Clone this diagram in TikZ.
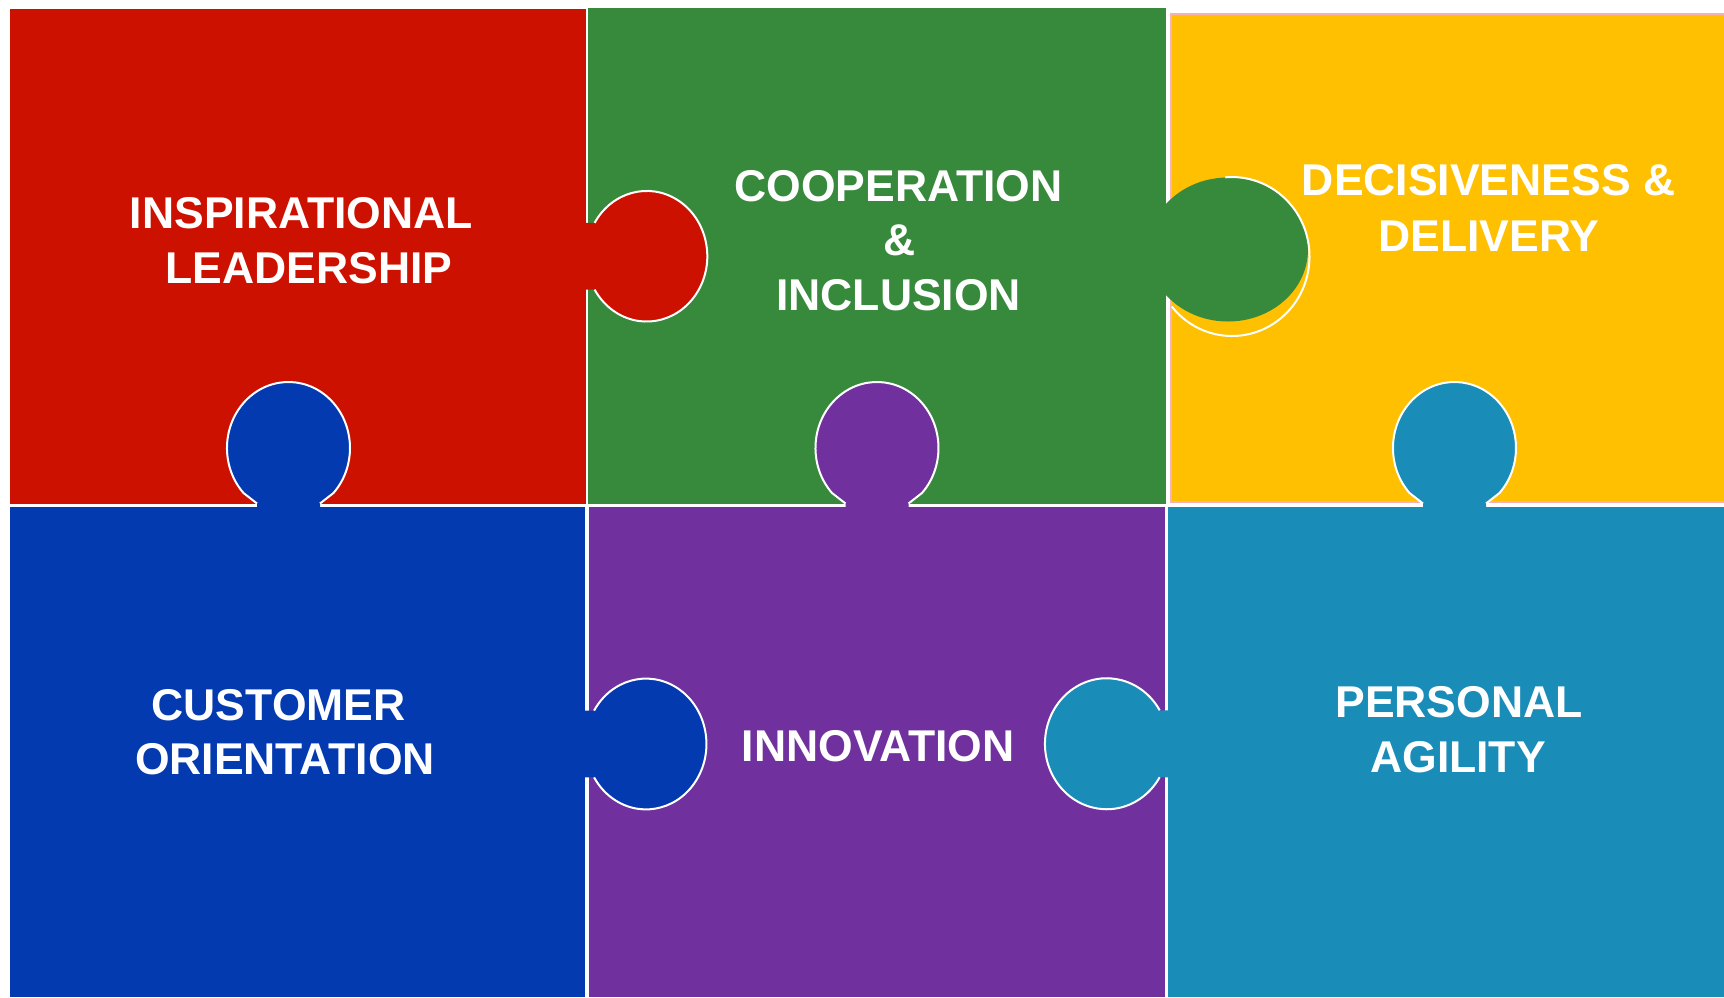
\documentclass[tikz,border=0pt]{standalone}
\usepackage{fontspec}
\setmainfont{Liberation Sans}
\definecolor{pred}{RGB}{205,17,0}
\definecolor{pgreen}{RGB}{55,138,60}
\definecolor{pyellow}{RGB}{254,192,0}
\definecolor{pblue}{RGB}{3,58,176}
\definecolor{ppurple}{RGB}{112,49,158}
\definecolor{pteal}{RGB}{26,140,184}
\definecolor{ppink}{RGB}{246,178,178}
\begin{document}
\begin{tikzpicture}[x=1pt,y=-1pt,
  tabline/.style={draw=white,line width=2pt,line join=round},
  lbl/.style={anchor=base,inner sep=0pt,text=white,font=\bfseries\fontsize{44.5}{53}\selectfont}]
\useasboundingbox (0,0) rectangle (1724,997);
\fill[white] (0,0) rectangle (1724,997);
% tiles
\fill[pred]    (10,9)      rectangle (585.5,503.5);
\fill[pgreen]  (588,8)     rectangle (1166,503.5);
\filldraw[fill=pyellow,draw=ppink,line width=1.2pt] (1171,14) rectangle (1726,502);
\fill[pblue]   (10,506.5)  rectangle (585,997);
\fill[ppurple] (589,506.5) rectangle (1164.5,997);
\fill[pteal]   (1168.3,506.5) rectangle (1724,997);
% tab: red into green
\fill[pred] (582,222.9) -- (594.6,222.9) arc[start angle=210.7,end angle=509.3,x radius=60.6,y radius=65.3] -- (582,289.7) -- cycle;
\draw[tabline] (594.6,222.9) arc[start angle=210.7,end angle=509.3,x radius=60.6,y radius=65.3];
% tab: blue into purple
\fill[pblue] (581,710.6) -- (594.1,710.6) arc[start angle=210.7,end angle=509.3,x radius=60.4,y radius=65.4] -- (581,777.4) -- cycle;
\draw[tabline] (594.1,710.6) arc[start angle=210.7,end angle=509.3,x radius=60.4,y radius=65.4];
% tab: teal into purple
\fill[pteal] (1171,710.3) -- (1159.7,710.3) arc[start angle=329.3,end angle=30.7,x radius=61.7,y radius=65.5] -- (1171,777.3) -- cycle;
\draw[tabline] (1159.7,710.3) arc[start angle=329.3,end angle=30.7,x radius=61.7,y radius=65.5];
% vertical tabs from bottom row into top row
\foreach \cx/\col in {288.5/pblue, 877/ppurple, 1454.5/pteal}{
  \fill[\col] (\cx-31.5,509) -- (\cx-31.5,503.5) -- (\cx-45,493) arc[start angle=137,end angle=403,x radius=61.5,y radius=66] -- (\cx+31.5,503.5) -- (\cx+31.5,509) -- cycle;
  \draw[tabline] (\cx-31.5,503.5) -- (\cx-45,493) arc[start angle=137,end angle=403,x radius=61.5,y radius=66] -- (\cx+31.5,503.5);
}
% tab: green into yellow (offset outline)
\fill[pgreen] (1228,249.5) ellipse[x radius=80,y radius=72];
\draw[tabline] (1232,256.5) ++(141:77.5 and 79.5) arc[start angle=141,end angle=-95,x radius=77.5,y radius=79.5];
% labels
\node[lbl] (t1a) at (301.3,228) {INSPIRATIONAL};
\node[lbl] (t1b) at (309,283.2) {LEADERSHIP};
\node[lbl] (t2a) at (898.6,201.8) {COOPERATION};
\node[lbl] (t2b) at (899.7,255.4) {\&};
\node[lbl] (t2c) at (898.6,310) {INCLUSION};
\node[lbl] (t3a) at (1488.6,195.7) {DECISIVENESS \&};
\node[lbl] (t3b) at (1489,251) {DELIVERY};
\node[lbl] (t4a) at (278.6,720) {CUSTOMER};
\node[lbl] (t4b) at (285,774) {ORIENTATION};
\node[lbl] (t5) at (878.3,761.5) {INNOVATION};
\node[lbl] (t6a) at (1459,717) {PERSONAL};
\node[lbl] (t6b) at (1458,772) {AGILITY};
\end{tikzpicture}
\end{document}
